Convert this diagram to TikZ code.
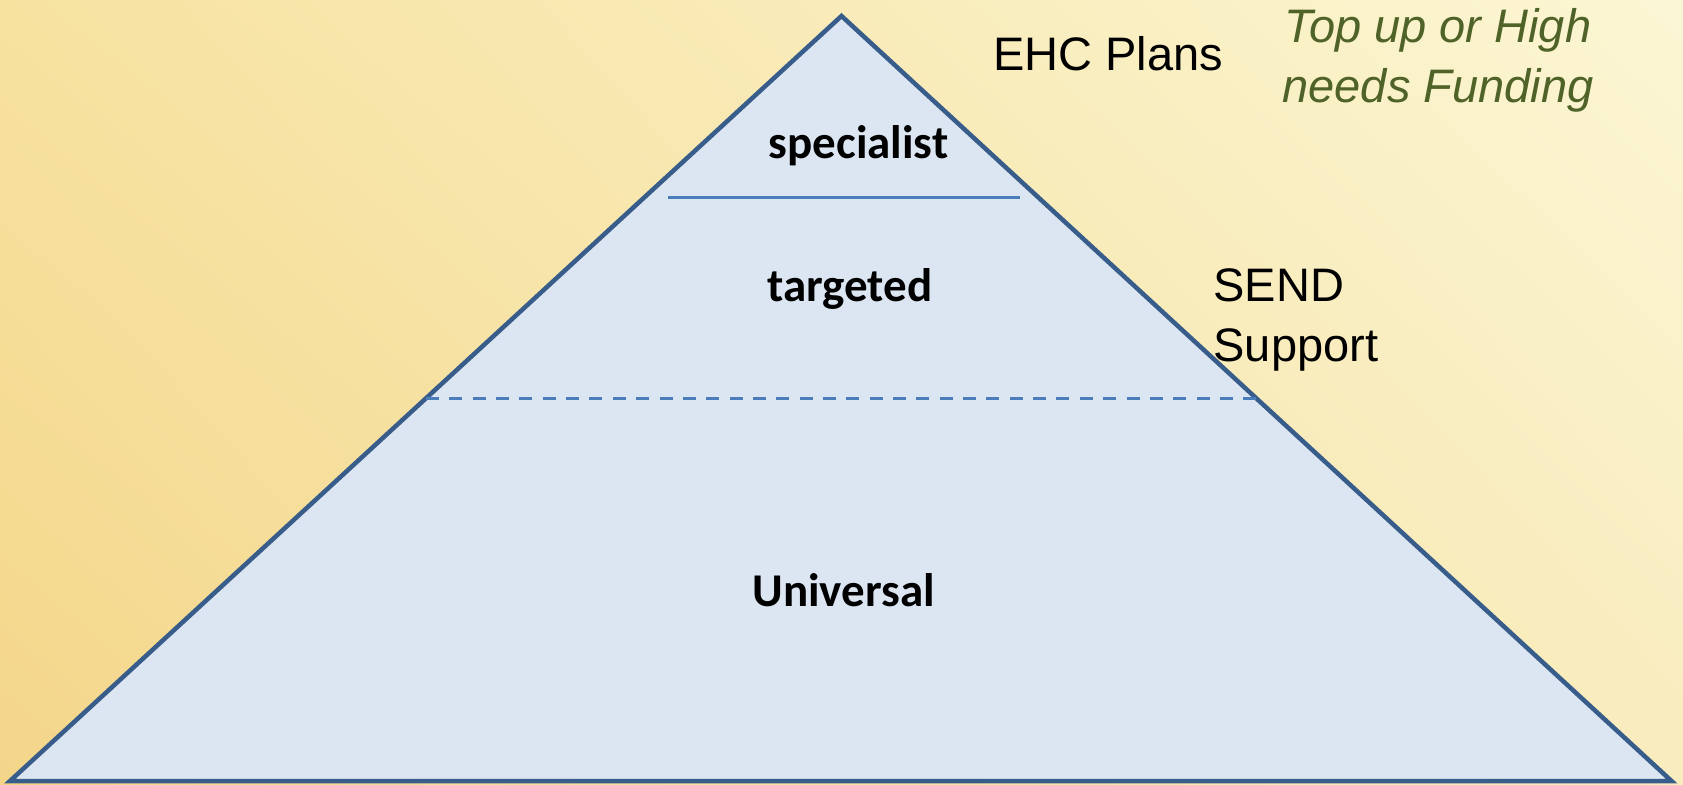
\documentclass[tikz,border=0pt]{standalone}
\usepackage{fontspec}
\usetikzlibrary{shadings}
\setmainfont{Liberation Sans}
\newfontfamily\carlito{Carlito}

\definecolor{bgul}{RGB}{247,226,160}
\definecolor{bgll}{RGB}{244,214,138}
\definecolor{bgur}{RGB}{251,246,212}
\definecolor{bglr}{RGB}{249,236,190}
\definecolor{pyrfill}{RGB}{220,230,242}
\definecolor{pyredge}{RGB}{56,93,138}
\definecolor{tierline}{RGB}{74,126,187}
\definecolor{fundgreen}{RGB}{79,98,40}

\begin{document}
\begin{tikzpicture}[x=1pt,y=1pt]

        \shade[upper left=bgul, lower left=bgll, upper right=bgur, lower right=bglr]
          (0,0) rectangle (1683,784);
        \useasboundingbox (0,0) rectangle (1683,784);

        \coordinate (apex)  at (841.5,768);
        \coordinate (left)  at (10,3);
        \coordinate (right) at (1671.5,3);
        \coordinate (s1)    at (668,586.3);
        \coordinate (s2)    at (1020,586.3);
        \coordinate (d1)    at (426,385.7);
        \coordinate (d2)    at (1256,385.7);

        \draw[line width=4.5pt, line join=miter, draw=pyredge, fill=pyrfill]
          (apex) -- (right) -- (left) -- cycle;

        \begin{scope}[every path/.style={draw=tierline, line width=3pt}]
          \path (s1) edge (s2);
          \path (d1) edge[dash pattern=on 13pt off 10.35pt] (d2);
        \end{scope}

        \begin{scope}[every node/.style={font=\carlito\bfseries\fontsize{47}{56}\selectfont}]
          \node (specialist) at (858.6,638) {specialist};
          \node (targeted)   at (850,495)   {targeted};
          \node (universal)  at (843.6,194) {Universal};
        \end{scope}

        \begin{scope}[every node/.style={font=\fontsize{47}{60}\selectfont}]
          \node (ehc)  at (1108,730.3) {EHC Plans};
          \node[anchor=west, align=left] (send) at (1210,464) {SEND\\Support};
          \node[align=center, text=fundgreen, font=\itshape\fontsize{47}{60}\selectfont]
            (funding) at (1438,724) {Top up or High\\needs Funding};
        \end{scope}

      \end{tikzpicture}
\end{document}
